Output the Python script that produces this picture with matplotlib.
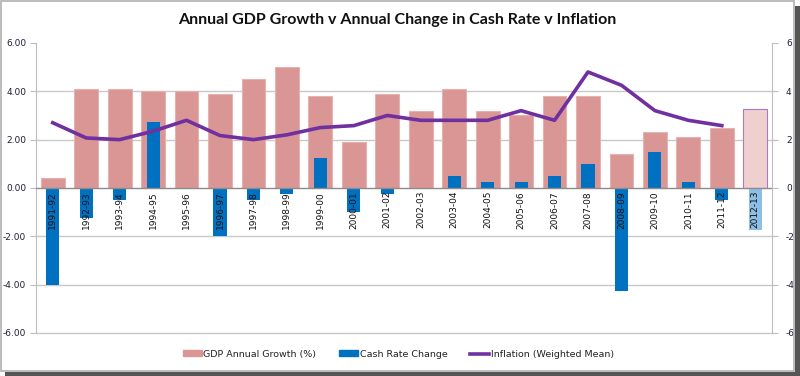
import matplotlib
matplotlib.use("Agg")
import matplotlib.pyplot as plt
from matplotlib.lines import Line2D
from matplotlib.patches import Patch, Rectangle

years = ["1991-92", "1992-93", "1993-94", "1994-95", "1995-96", "1996-97",
         "1997-98", "1998-99", "1999-00", "2000-01", "2001-02", "2002-03",
         "2003-04", "2004-05", "2005-06", "2006-07", "2007-08", "2008-09",
         "2009-10", "2010-11", "2011-12", "2012-13"]
gdp = [0.4, 4.1, 4.1, 4.0, 4.0, 3.9, 4.5, 5.0, 3.8, 1.9, 3.9, 3.2,
       4.1, 3.2, 3.0, 3.8, 3.8, 1.4, 2.3, 2.1, 2.5, 3.25]
cash = [-4.0, -1.25, -0.5, 2.75, 0.0, -2.0, -0.5, -0.25, 1.25, -1.0, -0.25, 0.0,
        0.5, 0.25, 0.25, 0.5, 1.0, -4.25, 1.5, 0.25, -0.5, -1.75]
inflation = [2.7, 2.07, 2.0, 2.35, 2.8, 2.17, 2.0, 2.2, 2.5, 2.58, 3.0, 2.8,
             2.8, 2.8, 3.2, 2.8, 4.8, 4.25, 3.2, 2.8, 2.58]

pink = "#d99694"
blue = "#0070c0"
purple = "#7030a0"
txt = "#1f1f3a"

fig = plt.figure(figsize=(8, 3.76), dpi=100)
ax = fig.add_axes([0.045, 0.1144, 0.92, 0.7713])

x = list(range(len(years)))
gdp_cols = [pink] * (len(years) - 1) + ["#f0d0cf"]
gdp_edges = ["#e4b2b1"] * (len(years) - 1) + ["#a57cc8"]
cash_cols = [blue] * (len(years) - 1) + ["#8dbfe6"]

ax.bar(x, gdp, width=0.71, color=gdp_cols, edgecolor=gdp_edges, linewidth=0.8, zorder=2)
ax.bar(x, cash, width=0.39, color=cash_cols, zorder=3)

ax.set_xlim(-0.5, len(years) - 0.5)
ax.set_ylim(-6, 6)
ax.set_yticks([-6, -4, -2, 0, 2, 4, 6])
ax.set_yticklabels(["%.2f" % v for v in [-6, -4, -2, 0, 2, 4, 6]], fontsize=6.5, color=txt)
ax.set_xticks([])
for v in [-6, -4, -2, 2, 4]:
    ax.axhline(v, color="#c8c8c8", lw=1, zorder=0, clip_on=False)
ax.axhline(0, color="#8c8c8c", lw=1, zorder=4)
for s in ["top", "bottom"]:
    ax.spines[s].set_visible(False)
ax.spines["left"].set_color("#bdbdbd")
ax.spines["right"].set_visible(False)
ax.tick_params(axis="y", length=4, color="#bdbdbd", pad=3)

for i, lab in enumerate(years):
    ax.text(i, -0.12, lab, rotation=90, ha="center", va="top", fontsize=6.5,
            color="#111111", zorder=5)

ax2 = ax.twinx()
ax2.set_ylim(-6, 6)
ax2.set_yticks([-6, -4, -2, 0, 2, 4, 6])
ax2.set_yticklabels(["-6", "-4", "-2", "0", "2", "4", "6"], fontsize=6.5, color=txt)
ax2.plot(x[:len(inflation)], inflation, color=purple, lw=2.6, zorder=6)
for s in ["top", "bottom", "left"]:
    ax2.spines[s].set_visible(False)
ax2.spines["right"].set_color("#bdbdbd")
ax2.tick_params(axis="y", length=4, color="#bdbdbd", pad=6)

fig.text(0.497, 0.947, "Annual GDP Growth v Annual Change in Cash Rate v Inflation",
         ha="center", va="center", fontsize=11.5, fontweight="bold",
         family="Lato", color="#111111")

handles = [Patch(color=pink), Patch(color=blue), Line2D([], [], color=purple, lw=2.6)]
labels = ["GDP Annual Growth (%)", "Cash Rate Change", "Inflation (Weighted Mean)"]
fig.legend(handles, labels, loc="center", bbox_to_anchor=(0.498, 0.058), ncol=3,
           frameon=False, fontsize=6.8, handlelength=2.0, handleheight=0.6,
           handletextpad=0.2, columnspacing=2.4, labelcolor="#222222")

# frame with drop shadow like the screenshot
fig.patches.append(Rectangle((0.001, 0.012), 0.991, 0.985, transform=fig.transFigure,
                             fill=False, edgecolor="#b0b0b0", lw=1.2))
fig.patches.append(Rectangle((0.994, 0.0), 0.006, 0.985, transform=fig.transFigure,
                             color="#555555", lw=0))
fig.patches.append(Rectangle((0.006, 0.0), 0.994, 0.01, transform=fig.transFigure,
                             color="#555555", lw=0))

fig.savefig("out.png", dpi=100)
